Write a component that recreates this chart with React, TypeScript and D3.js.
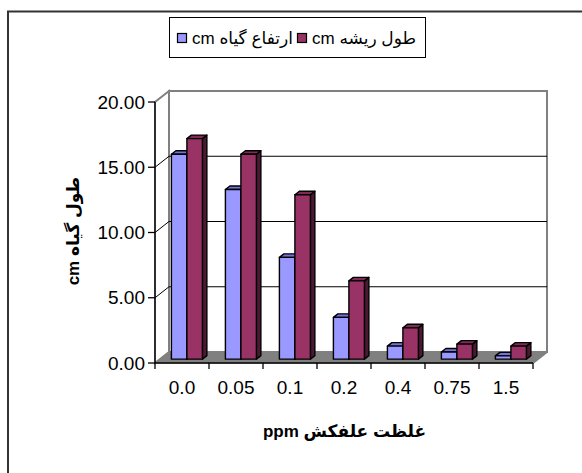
import React from "react";
import * as d3 from "d3";

const categories = ["0.0", "0.05", "0.1", "0.2", "0.4", "0.75", "1.5"];
const plantHeight = [15.7, 13.0, 7.8, 3.2, 1.0, 0.55, 0.25];
const rootLength = [16.9, 15.7, 12.6, 6.0, 2.4, 1.15, 1.0];
const yTicks = [0, 5, 10, 15, 20];
const seriesNames = ["ارتفاع گیاه", "طول ریشه"];
const seriesUnit = "cm";
const yTitle = "cm طول گیاه";
const xTitle = "ppm غلظت علفکش";

const W = 582;
const H = 473;
const FONT = "'Liberation Sans', Arial, 'DejaVu Sans', sans-serif";

const colors = [
  { front: "#9999FF", top: "#7373D9", side: "#4D4D99" },
  { front: "#993366", top: "#802A55", side: "#4C1933" },
];

export default function App() {
  const x0 = 155, x1 = 533, yBase = 363, yTopPx = 102;
  const dX = 14, dY = -11;
  const f0 = 0.35, f1 = 0.67;

  const xBand = d3.scaleBand<string>().domain(categories).range([x0, x1]).padding(0);
  const y = d3.scaleLinear().domain([0, 20]).range([yBase, yTopPx]);
  const bw = xBand.bandwidth();
  const groupW = bw * 0.574;
  const inner = d3.scaleBand<number>().domain([0, 1]).range([0, groupW]).padding(0);
  const series = [plantHeight, rootLength];

  const fmt = d3.format(".2f");

  const bars: JSX.Element[] = [];
  categories.forEach((c, i) => {
    series.forEach((vals, s) => {
      const v = vals[i];
      const xl = (xBand(c) as number) + (bw - groupW) / 2 + (inner(s) as number) + f0 * dX;
      const xr = xl + inner.bandwidth();
      const yt = y(v) + f0 * dY;
      const yb = y(0) + f0 * dY;
      const bdx = (f1 - f0) * dX;
      const bdy = (f1 - f0) * dY;
      const col = colors[s];
      const pts = (arr: number[][]) => arr.map((p) => p.join(",")).join(" ");
      bars.push(
        <g key={`${c}-${s}`} stroke="#000" strokeWidth={1.4} strokeLinejoin="round">
          <polygon fill={col.side} points={pts([[xr, yt], [xr + bdx, yt + bdy], [xr + bdx, yb + bdy], [xr, yb]])} />
          <polygon fill={col.top} points={pts([[xl, yt], [xr, yt], [xr + bdx, yt + bdy], [xl + bdx, yt + bdy]])} />
          <rect x={xl} y={yt} width={xr - xl} height={yb - yt} fill={col.front} />
        </g>
      );
    });
  });

  const bx0 = x0 + dX, bx1 = x1 + dX;
  const byTop = y(20) + dY, byBase = y(0) + dY;

  return (
    <svg width={W} height={H} style={{ position: "absolute", left: 0, top: 0, background: "#fff" }} fontFamily={FONT}>
      <rect x={0} y={0} width={W} height={H} fill="#fff" />
      {/* outer frame */}
      <path d={`M8,${H} L8,11.5 L${W},11.5`} fill="none" stroke="#333" strokeWidth={2} />

      {/* legend */}
      <g>
        <rect x={169.5} y={17.5} width={256} height={40} fill="#fff" stroke="#000" strokeWidth={1} />
        <rect x={177.5} y={33.5} width={9} height={9} fill={colors[0].front} stroke="#000" strokeWidth={1.2} />
        <text x={192} y={44} fontSize={17} fill="#000">{`${seriesUnit} ${seriesNames[0]}`}</text>
        <rect x={297.5} y={33.5} width={9} height={9} fill={colors[1].front} stroke="#000" strokeWidth={1.2} />
        <text x={312} y={44} fontSize={17} fill="#000">{`${seriesUnit} ${seriesNames[1]}`}</text>
      </g>

      {/* back wall */}
      <rect x={bx0} y={byTop} width={bx1 - bx0} height={byBase - byTop} fill="#fff" stroke="#808080" strokeWidth={2} />
      {/* left wall */}
      <polygon points={`${x0},${yBase} ${bx0},${byBase} ${bx0},${byTop} ${x0},${yTopPx}`} fill="#fff" stroke="#808080" strokeWidth={2} />
      {/* gridlines */}
      {yTicks.filter((t) => t > 0 && t < 20).map((t) => (
        <g key={t} stroke="#000" strokeWidth={1}>
          <line x1={bx0} x2={bx1} y1={y(t) + dY} y2={y(t) + dY} />
          <line x1={x0} x2={bx0} y1={y(t)} y2={y(t) + dY} />
        </g>
      ))}
      {/* floor */}
      <polygon points={`${x0},${yBase} ${x1},${yBase} ${bx1},${byBase} ${bx0},${byBase}`} fill="#808080" stroke="#808080" strokeWidth={1} />
      <line x1={x1} y1={yBase} x2={bx1} y2={byBase} stroke="#808080" strokeWidth={2} />

      {/* axes */}
      <line x1={x0} x2={x0} y1={yTopPx} y2={yBase + 6} stroke="#000" strokeWidth={1.3} />
      <line x1={x0} x2={x1} y1={yBase} y2={yBase} stroke="#000" strokeWidth={1.3} />
      {yTicks.map((t) => (
        <g key={t}>
          <line x1={x0 - 7} x2={x0} y1={y(t)} y2={y(t)} stroke="#000" strokeWidth={1.3} />
          <text x={145} y={y(t)} dy="0.35em" textAnchor="end" fontSize={19} fill="#000">{fmt(t)}</text>
        </g>
      ))}
      {categories.map((c, i) => (
        <line key={`t${i}`} x1={(xBand(c) as number) + bw} x2={(xBand(c) as number) + bw} y1={yBase} y2={yBase + 6} stroke="#000" strokeWidth={1.3} />
      ))}
      {categories.map((c) => (
        <text key={`l${c}`} x={(xBand(c) as number) + bw / 2} y={yBase + 24} dy="0.35em" textAnchor="middle" fontSize={19} fill="#000">{c}</text>
      ))}

      {bars}

      {/* axis titles */}
      <text x={344.5} y={431} dy="0.35em" textAnchor="middle" fontSize={17} fontWeight="bold" fill="#000">{xTitle}</text>
      <text transform={`translate(73,231) rotate(-90)`} dy="0.35em" textAnchor="middle" fontSize={17} fontWeight="bold" fill="#000">{yTitle}</text>
    </svg>
  );
}
